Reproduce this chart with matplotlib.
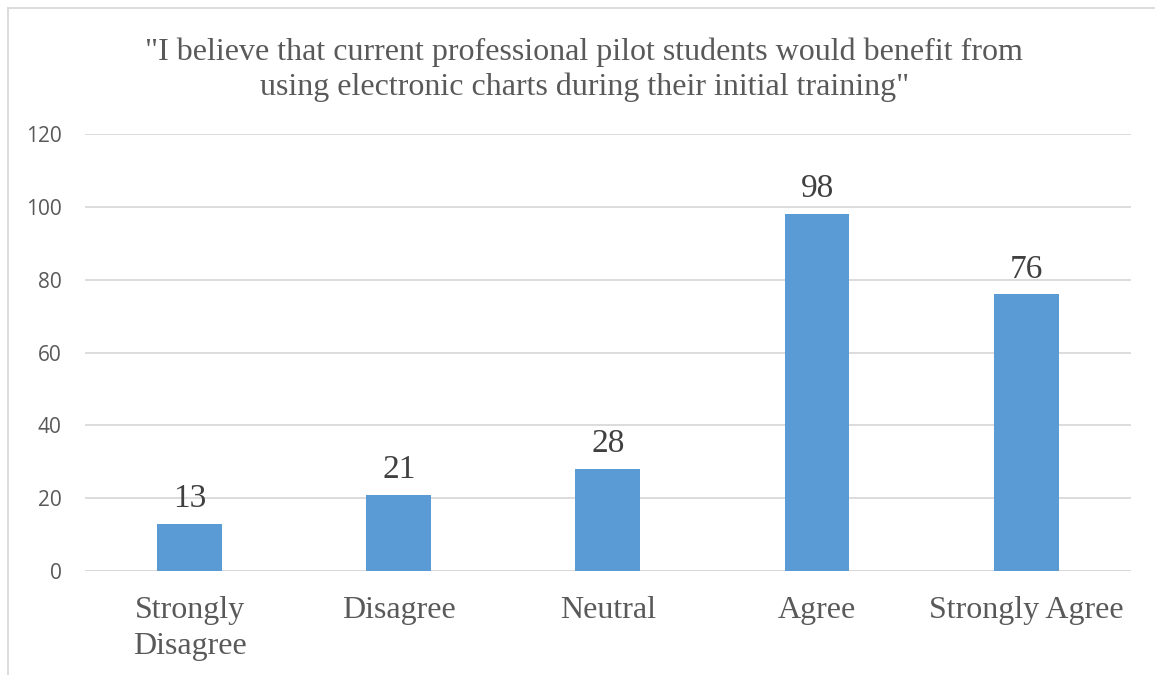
import matplotlib.pyplot as plt
from matplotlib.lines import Line2D

categories = ["Strongly\nDisagree", "Disagree", "Neutral", "Agree", "Strongly Agree"]
counts = [13, 21, 28, 98, 76]
y_ticks = [0, 20, 40, 60, 80, 100, 120]
title = ('"I believe that current professional pilot students would benefit from\n'
         'using electronic charts during their initial training"')

text_grey = "#595959"
bar_blue = "#5B9BD5"
grid_grey = "#D9D9D9"
serif = ["Liberation Serif", "DejaVu Serif"]
sans = ["Open Sans", "DejaVu Sans"]

fig = plt.figure(figsize=(11.55, 6.75), dpi=100)
ax = fig.add_axes([0.0736, 0.154, 0.9054, 0.6475])

x = list(range(len(categories)))
bars = ax.bar(x, counts, width=0.31, color=bar_blue, zorder=3)

ax.set_xlim(-0.5, len(categories) - 0.5)
ax.set_ylim(0, 120)
ax.set_yticks(y_ticks)
ax.set_yticklabels([str(v) for v in y_ticks], family=sans, fontsize=15, color=text_grey)
ax.set_xticks(x)
ax.set_xticklabels(categories, family=serif, fontsize=23, color=text_grey, linespacing=1.3)
ax.tick_params(axis="both", length=0)
ax.tick_params(axis="x", pad=18)
ax.tick_params(axis="y", pad=17)
ax.grid(axis="y", color=grid_grey, linewidth=1.3, zorder=0)
for side in ["top", "right", "left", "bottom"]:
    ax.spines[side].set_visible(False)
ax.axhline(0, color=grid_grey, linewidth=1.3, zorder=2)

for rect, val in zip(bars, counts):
    ax.annotate(str(val), (rect.get_x() + rect.get_width() / 2, val),
                xytext=(0, 7), textcoords="offset points", ha="center", va="bottom",
                family=serif, fontsize=24, color="#404040")

fig.text(0.506, 0.897, title, ha="center", va="center", family=serif,
         fontsize=23, color=text_grey, linespacing=1.25)

# chart frame (top and left edges visible in the reference)
fig.add_artist(Line2D([8 / 1155, 1], [1 - 8 / 675, 1 - 8 / 675], transform=fig.transFigure,
                      color=grid_grey, linewidth=1.3))
fig.add_artist(Line2D([8 / 1155, 8 / 1155], [0, 1 - 8 / 675], transform=fig.transFigure,
                      color=grid_grey, linewidth=1.3))

fig.savefig("out.png", dpi=100)
